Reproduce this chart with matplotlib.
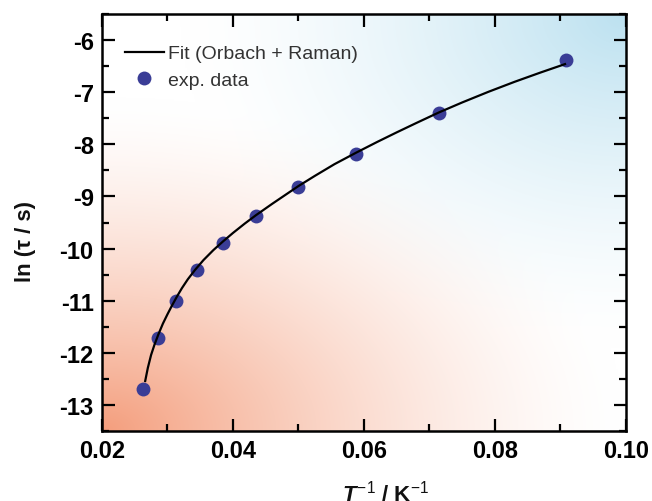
import numpy as np
import matplotlib.pyplot as plt
from matplotlib.ticker import MultipleLocator

plt.rcParams['font.family'] = ['Liberation Sans', 'DejaVu Sans']
plt.rcParams['axes.unicode_minus'] = False
plt.rcParams['mathtext.fontset'] = 'custom'
plt.rcParams['mathtext.rm'] = 'Liberation Sans'
plt.rcParams['mathtext.bf'] = 'Liberation Sans:bold'
plt.rcParams['mathtext.it'] = 'Liberation Sans:bold:italic'

# temperaturas medidas (K) -> eje x = 1/T
temps = [38, 35, 32, 29, 26, 23, 20, 17, 14, 11]
inv_T = [1.0 / t for t in temps]
ln_tau = [-12.69, -11.71, -11.01, -10.41, -9.89, -9.365, -8.82, -8.19, -7.39, -6.38]

# curva de ajuste (Orbach + Raman)
fit_x = [0.0266, 0.0270, 0.0275, 0.0280, 0.0286, 0.0293, 0.0300, 0.0307,
         0.0314, 0.0322, 0.0331, 0.0342, 0.0355, 0.0370, 0.0385, 0.0400,
         0.0418, 0.0435, 0.0460, 0.0500, 0.0525, 0.0555, 0.0588, 0.0620,
         0.0650, 0.0680, 0.0714, 0.0750, 0.0790, 0.0830, 0.0870, 0.0907]
fit_y = [-12.54, -12.29, -12.04, -11.85, -11.65, -11.44, -11.26, -11.09,
         -10.93, -10.76, -10.59, -10.41, -10.22, -10.03, -9.86, -9.70,
         -9.52, -9.36, -9.14, -8.80, -8.605, -8.38, -8.16, -7.955,
         -7.77, -7.59, -7.39, -7.196, -6.992, -6.80, -6.62, -6.46]

fig = plt.figure(figsize=(6.52, 5.02), dpi=100)
ax = fig.add_axes([0.1564, 0.1394, 0.8036, 0.8306])

# fondo degradado: naranja abajo-izquierda, azul arriba-derecha
n = 300
gx, gy = np.meshgrid(np.linspace(0, 1, n), np.linspace(0, 1, n))
d_or = np.sqrt((gx / 1.0)**2 + (gy / 0.8)**2)
d_bl = np.sqrt(((1 - gx) / 0.85)**2 + ((1 - gy) / 0.8)**2)
a = np.clip(1 - d_or, 0, 1) ** 1.5
b = np.clip(1 - d_bl, 0, 1) ** 1.5
orange = np.array([244, 158, 125]) / 255
blue = np.array([188, 225, 240]) / 255
img = np.ones((n, n, 3))
img = img * (1 - a[..., None]) + orange * a[..., None]
img = img * (1 - b[..., None]) + blue * b[..., None]
ax.imshow(img, extent=[0, 1, 0, 1], transform=ax.transAxes, origin='lower',
          aspect='auto', zorder=0, interpolation='bilinear')

ax.plot(fit_x, fit_y, color='black', lw=1.6, zorder=3, label='Fit (Orbach + Raman)')
ax.plot(inv_T, ln_tau, 'o', color='#3a3d96', ms=10, mec='none', zorder=2,
        label='exp. data')

ax.set_xlim(0.02, 0.10)
ax.set_ylim(-13.5, -5.5)
ax.xaxis.set_major_locator(MultipleLocator(0.02))
ax.xaxis.set_minor_locator(MultipleLocator(0.01))
ax.yaxis.set_major_locator(MultipleLocator(1))
ax.yaxis.set_minor_locator(MultipleLocator(0.5))
ax.set_xticks([0.02, 0.04, 0.06, 0.08, 0.10])
ax.set_xticklabels(['0.02', '0.04', '0.06', '0.08', '0.10'])

ax.tick_params(which='both', direction='in', top=True, right=True, width=1.6,
               labelsize=17, pad=6)
ax.tick_params(which='major', length=9)
ax.tick_params(which='minor', length=5)
for lab in ax.get_xticklabels() + ax.get_yticklabels():
    lab.set_fontweight('bold')
for s in ax.spines.values():
    s.set_linewidth(1.8)
    s.set_zorder(5)

fig.text(25 / 652, 1 - 241 / 502, 'ln (τ / s)', rotation=90, fontsize=16,
         fontweight='bold', ha='center', va='center', color='#111111')
fig.text(386 / 652, 8 / 502, r'$T^{\mathrm{-1}}$ / K$^{\mathrm{-1}}$', fontsize=16,
         fontweight='bold', ha='center', va='center', color='#111111')

leg = ax.legend(loc='upper left', bbox_to_anchor=(0.029, 0.945), frameon=False,
                fontsize=14, handlelength=2.0, handletextpad=0.2,
                labelspacing=0.44, borderaxespad=0)
for t in leg.get_texts():
    t.set_color('#333333')

fig.savefig('out.png', dpi=100)
